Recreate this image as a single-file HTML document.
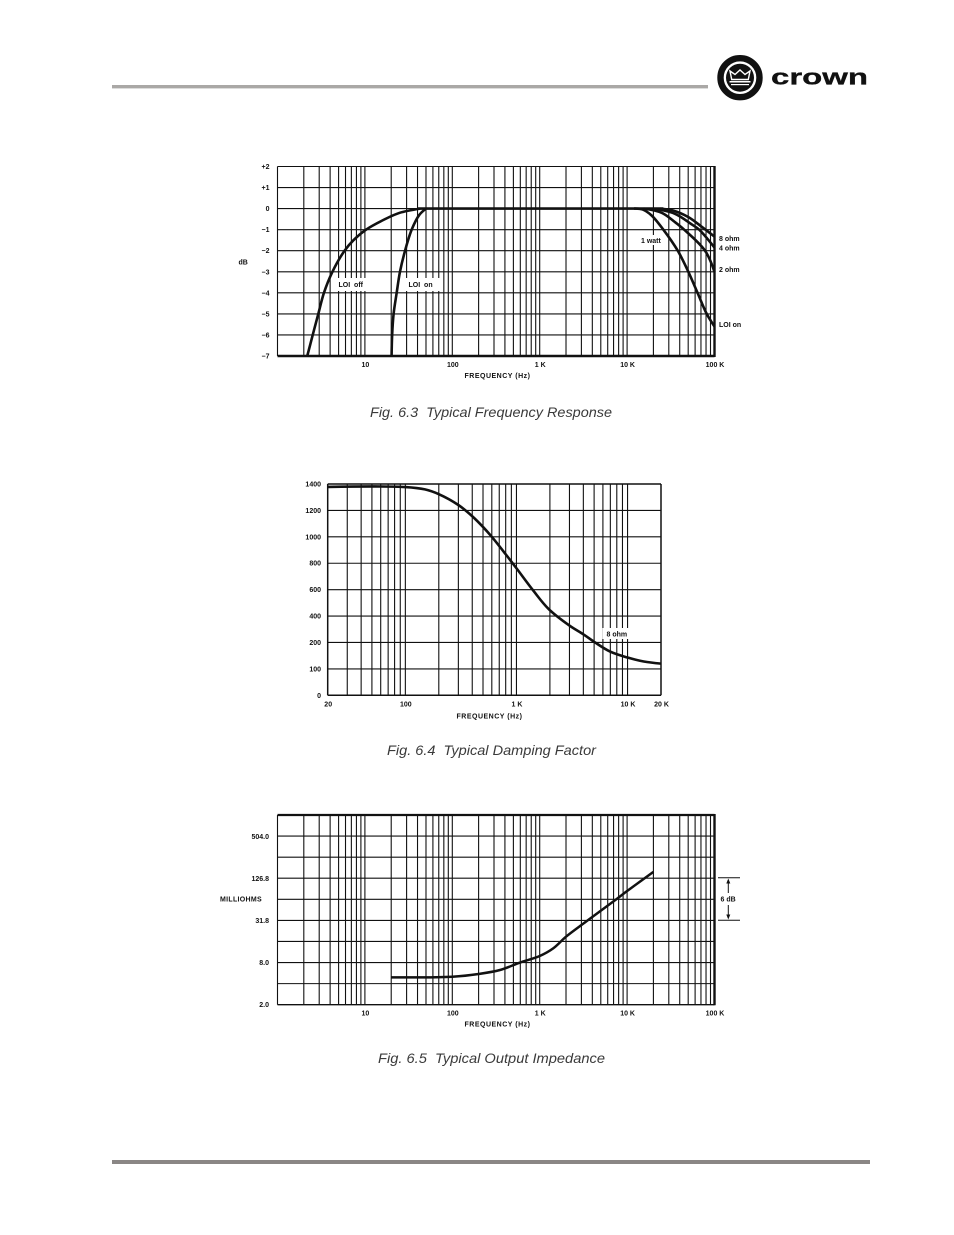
<!DOCTYPE html>
<html lang="en">
<head>
<meta charset="utf-8">
<title>Crown amplifier typical performance charts</title>
<style>
html,body{margin:0;padding:0;background:#fff;width:954px;height:1235px;overflow:hidden}
svg{display:block}
text{font-family:"Liberation Sans",sans-serif;fill:#111}
.tick{font-size:7px;font-weight:700}
.title{font-size:7px;font-weight:700;letter-spacing:.5px}
.cap{font-size:14px;font-style:italic;fill:#3a3a3a}
</style>
</head>
<body>
<svg id="page" xmlns="http://www.w3.org/2000/svg" width="954" height="1235" viewBox="0 0 954 1235">
  <rect x="112" y="85" width="596" height="3.4" fill="#aaa8a6"/>
  <rect x="112" y="1160" width="758" height="4" fill="#8a8685"/>

  <g>
    <circle cx="740" cy="77.7" r="19.5" fill="none" stroke="#111" stroke-width="6.4"/>
    <circle cx="740" cy="77.7" r="14" fill="#111"/>
    <path d="M730 71l5 3.5 5-4.5 5 4.5 5-3.5-1.7 8.5h-16.6z" fill="none" stroke="#fff" stroke-width="1.4"/>
    <rect x="729.5" y="81" width="21" height="1.5" fill="#fff"/>
    <rect x="731" y="84" width="18" height="1.2" fill="#fff"/>
    <text x="771" y="84.3" font-size="22" font-weight="700" textLength="97" lengthAdjust="spacingAndGlyphs" style="fill:#111;stroke:#111;stroke-width:.3">crown</text>
  </g>

  <g>
    <g id="fr-grid"></g>
    <rect x="335" y="278" width="33" height="13" fill="#fff"/>
    <rect x="405" y="278" width="35" height="13" fill="#fff"/>
    <rect x="638" y="235" width="28" height="10" fill="#fff"/>
    <g id="fr-curves"></g>
    <g id="fr-ticks"></g>
    <text class="tick" x="338.5" y="287" xml:space="preserve">LOI  off</text>
    <text class="tick" x="408.5" y="287" xml:space="preserve">LOI  on</text>
    <text class="tick" x="641" y="243">1 watt</text>
    <text class="tick" x="719" y="241">8 ohm</text>
    <text class="tick" x="719" y="250.5">4 ohm</text>
    <text class="tick" x="719" y="272">2 ohm</text>
    <text class="tick" x="719" y="327">LOI on</text>
    <text class="tick" x="238.5" y="264.5">dB</text>
    <text class="title" x="464.5" y="378">FREQUENCY (Hz)</text>
  </g>
  <text class="cap" x="370" y="417" textLength="242" lengthAdjust="spacingAndGlyphs" xml:space="preserve">Fig. 6.3  Typical Frequency Response</text>

  <g>
    <g id="df-grid"></g>
    <rect x="602.5" y="628" width="27" height="11" fill="#fff"/>
    <g id="df-curves"></g>
    <g id="df-ticks"></g>
    <text class="tick" x="606.5" y="636.5">8 ohm</text>
    <text class="title" x="456.5" y="718.5">FREQUENCY (Hz)</text>
  </g>
  <text class="cap" x="387" y="755" textLength="209" lengthAdjust="spacingAndGlyphs" xml:space="preserve">Fig. 6.4  Typical Damping Factor</text>

  <g>
    <g id="oi-grid"></g>
    <g id="oi-curves"></g>
    <g id="oi-ticks"></g>
    <text class="tick" x="220" y="901.5" style="letter-spacing:.3px">MILLIOHMS</text>
    <text class="title" x="464.5" y="1026.5">FREQUENCY (Hz)</text>
    <g stroke="#111" stroke-width="1" fill="#111">
      <line x1="718" y1="877.8" x2="740" y2="877.8"/>
      <line x1="718" y1="920.3" x2="740" y2="920.3"/>
      <line x1="728.3" y1="880" x2="728.3" y2="893"/>
      <line x1="728.3" y1="905" x2="728.3" y2="918"/>
      <path d="M728.3 878.5l-2 5h4z" stroke="none"/>
      <path d="M728.3 919.5l-2-5h4z" stroke="none"/>
    </g>
    <text class="tick" x="720.5" y="901.5">6 dB</text>
  </g>
  <text class="cap" x="378" y="1063" textLength="227" lengthAdjust="spacingAndGlyphs" xml:space="preserve">Fig. 6.5  Typical Output Impedance</text>
</svg>
<script>
/* Figure 6.3 data */
var frDbTicks = ['+2','+1','0','\u22121','\u22122','\u22123','\u22124','\u22125','\u22126','\u22127'];
var frDbValues = [2,1,0,-1,-2,-3,-4,-5,-6,-7];
var freqTickValues = [10,100,1000,10000,100000];
var freqTickLabels = ['10','100','1 K','10 K','100 K'];
var loiOffFreq = [2.19,2.53,2.93,3.4,4.25,5.85,7.4,10.3,17,25,43];
var loiOffDb = [-7,-6,-5,-4,-3,-2,-1.5,-1,-0.5,-0.2,0];
var loiOnFreq = [20.2,20.5,21.3,23.1,25.2,28.8,34.3,41.9,50];
var loiOnDb = [-7,-6,-5,-4,-3,-2,-1,-0.3,0];
var midbandFreq = [40,26000];
var midbandDb = [0,0];
var rolloffLoiFreq = [12000,15000,19000,26000,38000,50200,64000,81500,100000];
var rolloffLoiDb = [0,-0.04,-0.32,-1,-2,-3,-4,-5,-5.6];
var rolloff2Freq = [15500,24900,35000,45000,78000,100000];
var rolloff2Db = [0,-0.2,-0.63,-1,-2,-3];
var rolloff4Freq = [20000,35000,55000,66800,100000];
var rolloff4Db = [0,-0.24,-0.75,-1,-1.85];
var rolloff8Freq = [24000,32700,50000,71800,100000];
var rolloff8Db = [0,-0.08,-0.4,-0.87,-1.33];

/* Figure 6.4 data */
var dfTickValues = [0,100,200,400,600,800,1000,1200,1400];
var dfFreqTickValues = [20,100,1000,10000,20000];
var dfFreqTickLabels = ['20','100','1 K','10 K','20 K'];
var dfFreq = [20,100,150,200,300,400,500,600,800,1000,1420,1940,3000,4000,5000,7000,10000,14000,20000];
var dfValues = [1378,1377,1359,1323,1241,1156,1075,1000,868,762,592,455,328,262,205,165,143,128,120];

/* Figure 6.5 data */
var oiTickValues = [2,8,31.8,126.8,504];
var oiTickLabels = ['2.0','8.0','31.8','126.8','504.0'];
var oiFreq = [20,100,200,351,596,1000,1433,2000,3400,7670,10000,20000];
var oiValues = [4.92,5.02,5.49,6.26,8,9.92,12.8,18.7,30.8,65.3,84,158];

var NS = 'http://www.w3.org/2000/svg';
function make(tag, parent, name) {
  var el = document.createElementNS(NS, tag);
  
  
  parent.appendChild(el);
  return el;
}
function gridLine(parent, name, x1, y1, x2, y2, w) {
  var l = make('line', parent, name);
  l.setAttribute('x1', x1); l.setAttribute('y1', y1);
  l.setAttribute('x2', x2); l.setAttribute('y2', y2);
  l.setAttribute('stroke', '#111');
  l.setAttribute('stroke-width', w);
}
function label(parent, name, text, x, y, anchor) {
  var t = make('text', parent, name);
  t.setAttribute('class', 'tick');
  t.setAttribute('x', x); t.setAttribute('y', y);
  t.setAttribute('text-anchor', anchor);
  t.textContent = text;
}
/* Smooth path through the points: centripetal Catmull-Rom in screen space */
function curve(parent, name, xs, ys, sx, sy, w) {
  var P = xs.map(function (v, i) { return [sx(v), sy(ys[i])]; });
  var n = P.length;
  function dist(a, b) { return Math.sqrt(Math.hypot(a[0] - b[0], a[1] - b[1])); }
  var d = 'M' + P[0][0].toFixed(2) + ' ' + P[0][1].toFixed(2);
  for (var i = 0; i < n - 1; i++) {
    var p0 = P[Math.max(i - 1, 0)], p1 = P[i], p2 = P[i + 1], p3 = P[Math.min(i + 2, n - 1)];
    var l01 = dist(p0, p1), l12 = dist(p1, p2), l23 = dist(p2, p3);
    var c1 = p1, c2 = p2;
    if (l01 > 1e-6) {
      var a = 2 * l01 * l01 + 3 * l01 * l12 + l12 * l12, m = 3 * l01 * (l01 + l12);
      c1 = [0, 1].map(function (k) { return (p1[k] * a - p0[k] * l12 * l12 + p2[k] * l01 * l01) / m; });
    }
    if (l23 > 1e-6) {
      var b = 2 * l23 * l23 + 3 * l23 * l12 + l12 * l12, q = 3 * l23 * (l23 + l12);
      c2 = [0, 1].map(function (k) { return (p2[k] * b + p1[k] * l23 * l23 - p3[k] * l12 * l12) / q; });
    }
    d += 'C' + c1[0].toFixed(2) + ' ' + c1[1].toFixed(2) + ' ' + c2[0].toFixed(2) + ' ' + c2[1].toFixed(2) + ' ' + p2[0].toFixed(2) + ' ' + p2[1].toFixed(2);
  }
  var path = make('path', parent, name);
  path.setAttribute('d', d);
  path.setAttribute('fill', 'none');
  path.setAttribute('stroke', '#111');
  path.setAttribute('stroke-width', w);
  path.setAttribute('stroke-linejoin', 'round');
}
function logLines(fromF, toF) {
  var out = [];
  for (var dec = 1; dec <= 100000; dec *= 10) {
    for (var m = 1; m <= 9; m++) {
      var f = m * dec;
      if (f > fromF && f < toF) out.push(f);
    }
  }
  return out;
}

/* ---- Figure 6.3 ---- */
var frL = 277.5, frR = 714.5, frT = 166.5, frB = 356;
function frX(f) { return frL + Math.log10(f) * (frR - frL) / 5; }
function frY(v) { return frT + (2 - v) * (frB - frT) / 9; }
var frGrid = document.getElementById('fr-grid');
var frTicks = document.getElementById('fr-ticks');
var frCurves = document.getElementById('fr-curves');
logLines(1, 100000).forEach(function (f) { gridLine(frGrid, 'frequency-gridline', frX(f), frT, frX(f), frB, 1.1); });
frDbValues.forEach(function (v, i) {
  gridLine(frGrid, 'db-gridline', frL, frY(v), frR, frY(v), v === -7 ? 2.4 : 1.1);
  label(frTicks, 'db-tick-label', frDbTicks[i], 269.5, frY(v) + 2.5, 'end');
});
gridLine(frGrid, 'plot-left-border', frL, frT, frL, frB, 1.1);
gridLine(frGrid, 'plot-right-border', frR, frT - .5, frR, frB + 1, 2.4);
freqTickValues.forEach(function (f, i) {
  label(frTicks, 'frequency-tick-label', freqTickLabels[i], frX(f) + .5, 367, 'middle');
});
curve(frCurves, 'loi-off-curve', loiOffFreq, loiOffDb, frX, frY, 2.6);
curve(frCurves, 'loi-on-curve', loiOnFreq, loiOnDb, frX, frY, 2.6);
curve(frCurves, 'midband-flat-curve', midbandFreq, midbandDb, frX, frY, 2.6);
curve(frCurves, 'loi-on-rolloff-curve', rolloffLoiFreq, rolloffLoiDb, frX, frY, 2.6);
curve(frCurves, 'two-ohm-curve', rolloff2Freq, rolloff2Db, frX, frY, 2.6);
curve(frCurves, 'four-ohm-curve', rolloff4Freq, rolloff4Db, frX, frY, 2.6);
curve(frCurves, 'eight-ohm-curve', rolloff8Freq, rolloff8Db, frX, frY, 2.6);

/* ---- Figure 6.4 ---- */
var dfL = 327.7, dfR = 661, dfT = 484, dfB = 695.3;
function dfX(f) { return dfL + (Math.log10(f) - Math.log10(20)) * (dfR - dfL) / 3; }
function dfY(v) {
  var n = dfTickValues.length - 1, i = 0;
  while (i < n - 1 && v > dfTickValues[i + 1]) i++;
  var pos = i + (v - dfTickValues[i]) / (dfTickValues[i + 1] - dfTickValues[i]);
  return dfB - pos * (dfB - dfT) / n;
}
var dfGrid = document.getElementById('df-grid');
var dfTicks = document.getElementById('df-ticks');
var dfCurves = document.getElementById('df-curves');
logLines(20, 20000).forEach(function (f) { gridLine(dfGrid, 'frequency-gridline', dfX(f), dfT, dfX(f), dfB, 1.1); });
dfTickValues.forEach(function (v) {
  gridLine(dfGrid, 'damping-gridline', dfL, dfY(v), dfR, dfY(v), (v === 0 || v === 1400) ? 1.5 : 1.1);
  label(dfTicks, 'damping-tick-label', String(v), 321, dfY(v) + 2.5, 'end');
});
gridLine(dfGrid, 'plot-left-border', dfL, dfT, dfL, dfB, 1.5);
gridLine(dfGrid, 'plot-right-border', dfR, dfT, dfR, dfB, 1.5);
dfFreqTickValues.forEach(function (f, i) {
  label(dfTicks, 'frequency-tick-label', dfFreqTickLabels[i], dfX(f) + .5, 706.5, 'middle');
});
curve(dfCurves, 'damping-factor-curve', dfFreq, dfValues, dfX, dfY, 2.6);

/* ---- Figure 6.5 ---- */
var oiL = 277.5, oiR = 714.5, oiT = 815, oiB = 1004.7;
function oiX(f) { return oiL + Math.log10(f) * (oiR - oiL) / 5; }
function oiY(v) { return oiB - Math.log2(v / 2) * (oiB - oiT) / 9; }
var oiGrid = document.getElementById('oi-grid');
var oiTicks = document.getElementById('oi-ticks');
var oiCurves = document.getElementById('oi-curves');
logLines(1, 100000).forEach(function (f) { gridLine(oiGrid, 'frequency-gridline', oiX(f), oiT, oiX(f), oiB, 1.1); });
for (var oct = 0; oct <= 9; oct++) {
  var gy = oiY(2 * Math.pow(2, oct));
  gridLine(oiGrid, 'impedance-gridline', oiL, gy, oiR, gy, oct === 9 ? 2.2 : (oct === 0 ? 1.4 : 1.1));
}
gridLine(oiGrid, 'plot-left-border', oiL, oiT, oiL, oiB, 1.1);
gridLine(oiGrid, 'plot-right-border', oiR, oiT - 1, oiR, oiB + .5, 2.4);
oiTickValues.forEach(function (v, i) {
  label(oiTicks, 'impedance-tick-label', oiTickLabels[i], 269, oiY(v) + 2.5, 'end');
});
freqTickValues.forEach(function (f, i) {
  label(oiTicks, 'frequency-tick-label', freqTickLabels[i], oiX(f) + .5, 1015.5, 'middle');
});
curve(oiCurves, 'output-impedance-curve', oiFreq, oiValues, oiX, oiY, 2.5);
</script>
</body>
</html>
